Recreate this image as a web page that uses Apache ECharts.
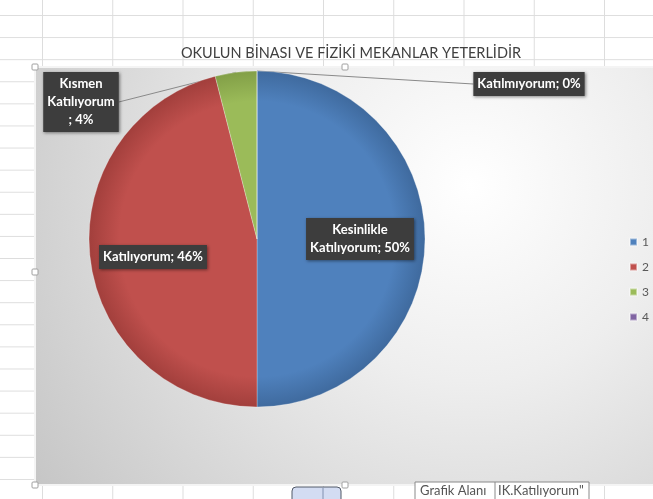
<!DOCTYPE html>
<html>
<head>
<meta charset="utf-8">
<script src="https://cdn.jsdelivr.net/npm/echarts@6/dist/echarts.min.js"></script>
<style>
html,body{margin:0;padding:0;background:#fff;}
#c{width:653px;height:499px;
background-color:#fff;
background-image:linear-gradient(to bottom,#dddddd 1px,transparent 1px),linear-gradient(to right,#dddddd 1px,transparent 1px);
background-size:100% 22.1px,70.25px 100%;
background-position:0 15px,42px 0;}
</style>
</head>
<body>
<div id="c"></div>
<script>
// ---- data ----
const titleText = 'OKULUN BİNASI VE FİZİKİ MEKANLAR YETERLİDİR';
const legendNames = ['1', '2', '3', '4'];
const labelNames = ['Kesinlikle\nKatılıyorum', 'Katılıyorum', 'Kısmen\nKatılıyorum\n', 'Katılmıyorum'];
const values = [50, 46, 4, 0];
const colors = ['#4f81bd', '#c0504d', '#9bbb59', '#8064a2'];
const rimColors = ['#3f6a9e', '#a23f3c', '#829f47', '#6a5088'];

// ---- layout (not data) ----
const pieCenter = [257, 239];
const pieRadius = 168;
const labelAnchors = [[360, 239], [153, 257], [81, 102], [529, 84]];

const chart = echarts.init(document.getElementById('c'), null, {renderer: 'canvas'});

function sliceFill(i) {
  return {
    type: 'radial', x: pieCenter[0], y: pieCenter[1], r: pieRadius, global: true,
    colorStops: [
      {offset: 0, color: colors[i]},
      {offset: 0.82, color: colors[i]},
      {offset: 1, color: rimColors[i]}
    ]
  };
}

// point on the rim at the middle angle of slice i (clockwise from 12 o'clock)
const total = values.reduce((a, b) => a + b, 0);
function rimPoint(i) {
  let before = 0;
  for (let k = 0; k < i; k++) before += values[k];
  const mid = (before + values[i] / 2) / total * Math.PI * 2;
  return [pieCenter[0] + pieRadius * Math.sin(mid), pieCenter[1] - pieRadius * Math.cos(mid)];
}

const handle = (x, y) => ({
  type: 'rect', z: 10, shape: {x: x - 3, y: y - 3, width: 6, height: 6, r: 1},
  style: {fill: '#fff', stroke: '#a0a0a0', lineWidth: 1}
});

const option = {
  animation: false,
  title: {
    text: titleText, left: 346, top: 41, textAlign: 'center',
    textStyle: {fontFamily: 'Lato', fontWeight: 'normal', fontSize: 14.5, color: '#404040'}
  },
  legend: {
    orient: 'vertical', left: 624, top: 231,
    itemWidth: 7, itemHeight: 7, itemGap: 13, icon: 'rect',
    textStyle: {color: '#595959', fontSize: 12, fontFamily: 'Lato'},
    data: legendNames.map((n, i) => ({name: n, itemStyle: {color: colors[i]}}))
  },
  graphic: [
    {
      type: 'rect', z: -10, silent: true,
      shape: {x: 35, y: 67, width: 630, height: 418},
      style: {
        fill: {type: 'radial', x: 470, y: 185, r: 560, global: true,
          colorStops: [{offset: 0, color: '#ffffff'}, {offset: 0.35, color: '#eeeeee'}, {offset: 1, color: '#c2c2c2'}]},
        stroke: '#f4f4f4', lineWidth: 2
      }
    },
    handle(35, 67), handle(345, 67), handle(35, 272), handle(35, 485), handle(345, 485),
    {
      type: 'rect', z: 10, shape: {x: 292, y: 487, width: 49, height: 16, r: 4},
      style: {fill: '#d3dcf2', stroke: '#505866', lineWidth: 1}
    },
    {
      type: 'line', z: 11, shape: {x1: 323, y1: 488, x2: 323, y2: 499},
      style: {stroke: '#8090b0', lineWidth: 1}
    },
    {
      type: 'rect', z: 10, shape: {x: 415, y: 482, width: 174, height: 20},
      style: {fill: '#ffffff', stroke: '#8a8a8a', lineWidth: 1}
    },
    {
      type: 'line', z: 11, shape: {x1: 495, y1: 482, x2: 495, y2: 499},
      style: {stroke: '#8a8a8a', lineWidth: 1}
    },
    {
      type: 'text', z: 11, x: 420, y: 484,
      style: {text: 'Grafik Alanı', fill: '#555', font: '13px Lato'}
    },
    {
      type: 'text', z: 11, x: 498, y: 484,
      style: {text: 'IK.Katılıyorum"', fill: '#555', font: '13px Lato'}
    }
  ],
  series: [{
    type: 'pie',
    center: pieCenter,
    radius: pieRadius,
    startAngle: 90,
    clockwise: true,
    avoidLabelOverlap: false,
    minShowLabelAngle: 0,
    itemStyle: {borderColor: 'rgba(255,255,255,0.45)', borderWidth: 0.6},
    label: {
      show: true,
      position: 'outside',
      formatter: p => labelNames[p.dataIndex] + '; ' + p.percent + '%',
      color: '#ffffff', fontWeight: 'bold', fontSize: 13, fontFamily: 'Lato',
      lineHeight: 18, align: 'center',
      backgroundColor: '#3d3d3d', padding: [3, 4],
      shadowBlur: 3, shadowColor: 'rgba(0,0,0,0.45)', shadowOffsetX: 1, shadowOffsetY: 1
    },
    labelLine: {show: true, lineStyle: {color: '#8a8a8a', width: 1}},
    labelLayout: params => {
      const i = params.dataIndex;
      const a = labelAnchors[i];
      const res = {x: a[0], y: a[1], align: 'center', verticalAlign: 'middle'};
      if (i >= 2) {
        const p = rimPoint(i);
        const halfW = params.labelRect.width / 2;
        const ex = p[0] < a[0] ? a[0] - halfW : a[0] + halfW;
        res.labelLinePoints = [p, [ex, a[1]], [ex, a[1]]];
      }
      return res;
    },
    emphasis: {disabled: true},
    data: values.map((v, i) => ({
      name: legendNames[i],
      value: v,
      itemStyle: {color: sliceFill(i)},
      labelLine: {show: i >= 2}
    }))
  }]
};
chart.setOption(option);
</script>
</body>
</html>
